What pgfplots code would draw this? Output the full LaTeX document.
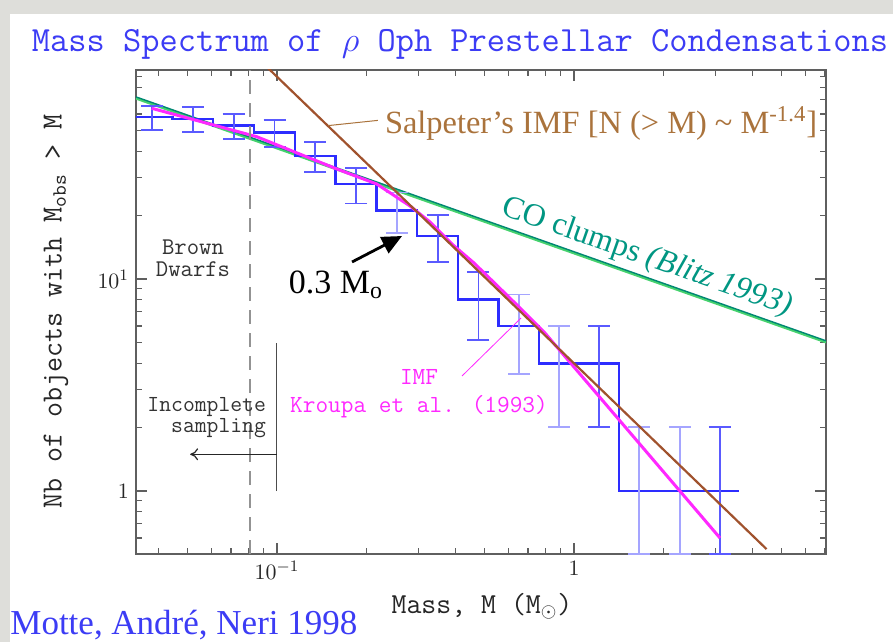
\documentclass[border=0pt]{standalone}
\usepackage{fontspec}
\setmainfont{Liberation Serif}
\usepackage{pgfplots}
\pgfplotsset{compat=1.18}
\usetikzlibrary{arrows.meta}
\definecolor{histblue}{RGB}{45,45,255}
\definecolor{errblue}{RGB}{90,90,255}
\definecolor{errlight}{RGB}{165,165,255}
\definecolor{salp}{RGB}{160,82,45}
\definecolor{salptext}{RGB}{170,115,60}
\definecolor{cogreen}{RGB}{70,210,110}
\definecolor{coteal}{RGB}{0,135,115}
\definecolor{cotext}{RGB}{0,150,130}
\definecolor{kroupa}{RGB}{255,40,255}
\definecolor{titleblue}{RGB}{60,60,245}
\definecolor{axgray}{RGB}{95,95,95}
\definecolor{bggray}{RGB}{222,222,218}
\begin{document}
\begin{tikzpicture}
\fill[bggray] (-68pt,-44pt) rectangle (378.5pt,277pt);
\fill[white] (-63pt,-44pt) rectangle (378.5pt,270pt);
\useasboundingbox (-68pt,-44pt) rectangle (378.5pt,277pt);
\begin{axis}[
  at={(0pt,0pt)}, anchor=south west,
  scale only axis, width=345pt, height=242pt,
  xmode=log, ymode=log,
  xmin=0.03352, xmax=7.056, ymin=0.5045, ymax=96.8,
  xtick={0.1,1}, xticklabels={$10^{-1}$,$1$},
  ytick={1,10}, yticklabels={$1$,$10^{1}$},
  minor xtick={0.04,0.05,0.06,0.07,0.08,0.09,0.2,0.3,0.4,0.5,0.6,0.7,0.8,0.9,2,3,4,5,6,7},
  minor ytick={0.6,0.7,0.8,0.9,2,3,4,5,6,7,8,9,20,30,40,50,60,70,80,90},
  axis line style={axgray, line width=1pt},
  major tick length=5.5pt, minor tick length=3pt,
  every tick/.style={axgray, line width=0.6pt},
  tick label style={font=\fontsize{11}{13}\selectfont, text=black!85},
  tick align=inside,
]
% CO clumps (Blitz 1993)
\addplot[cogreen, line width=1.2pt, mark=none] coordinates {(0.0335,71.1) (7.056,5.03)};
\addplot[coteal, line width=0.7pt, mark=none] coordinates {(0.0335,72.3) (7.056,5.11)};
% cumulative histogram
\addplot[histblue, line width=1.2pt, mark=none, const plot] coordinates {
 (0.03238,58) (0.04443,57) (0.06095,53) (0.08363,49) (0.11474,38) (0.15743,28)
 (0.2160,21) (0.2963,16) (0.4066,8) (0.5568,6) (0.7625,4) (1.039,4)
 (1.417,1) (1.941,1) (2.656,1) (3.60,1)};
% error bars (darker)
\addplot[draw=none, mark=none, forget plot,
  error bars/.cd, y dir=both, y explicit,
  error bar style={line width=0.9pt, draw=errblue},
  error mark options={rotate=90, line width=0.9pt, mark size=5.5pt, draw=errblue}]
 coordinates {
 (0.0380,58) +- (0,7.616)
 (0.0521,57) +- (0,7.550)
 (0.0715,53) +- (0,7.280)
 (0.0981,49) +- (0,7.0)
 (0.1346,38) +- (0,6.164)
 (0.1846,28) +- (0,5.292)
 (0.3475,16) +- (0,4.0)
 (0.4768,8) +- (0,2.828)
 (1.214,4) +- (0,2.0)
 (3.101,1) += (0,1) -= (0,0.4945)
 };
% error bars (lighter)
\addplot[draw=none, mark=none, forget plot,
  error bars/.cd, y dir=both, y explicit,
  error bar style={line width=0.9pt, draw=errlight},
  error mark options={rotate=90, line width=0.9pt, mark size=5.5pt, draw=errlight}]
 coordinates {
 (0.2533,21) +- (0,4.583)
 (0.653,6) +- (0,2.449)
 (0.890,4) +- (0,2.0)
 (1.655,1) += (0,1) -= (0,0.4945)
 (2.275,1) += (0,1) -= (0,0.4945)
 };
% Kroupa et al. (1993) IMF
\addplot[kroupa, line width=1.5pt, mark=none] coordinates {
 (0.03784,63.87) (0.08544,46.91) (0.1568,33.29) (0.2166,28.07) (0.2804,22.10)
 (0.3275,18.57) (0.3915,14.47) (0.4605,11.90) (0.6428,7.54) (0.7986,5.56) (3.101,0.6004)};
% Salpeter
\addplot[salp, line width=1.1pt, mark=none] coordinates {(0.09,103.7) (4.45,0.532)};
% annotations
\draw[gray!85, dash pattern=on 7pt off 4.5pt, line width=0.7pt] (axis cs:0.0811,0.5045) -- (axis cs:0.0811,96.8);
\draw[black!70, line width=0.5pt] (axis cs:0.1,1) -- (axis cs:0.1,5);
\draw[-{To[length=4pt,width=6pt]}, black!85, line width=0.6pt] (axis cs:0.1,1.49) -- (axis cs:0.051,1.49);
\draw[salptext, line width=0.5pt] (axis cs:0.1484,52.9) -- (axis cs:0.2186,56.0);
\draw[kroupa, line width=0.4pt] (axis cs:0.4197,3.487) -- (axis cs:0.6632,6.546);
\draw[-{Triangle[length=10pt,width=9pt]}, line width=1.4pt] (axis cs:0.1789,12.03) -- (axis cs:0.2636,15.95);
\end{axis}
% texts
\node[text=titleblue, font=\fontsize{17.7}{20}\ttfamily] at (162pt,255pt) {Mass Spectrum of $\rho$ Oph Prestellar Condensations};
\node[anchor=west, inner sep=0pt, text=titleblue, font=\fontsize{17.5}{20}\selectfont] at (-63pt,-35.5pt) {Motte, André, Neri 1998};
\node[font=\fontsize{14.5}{16}\ttfamily, text=black!85] at (173pt,-26pt) {Mass, M (M$_\odot$)};
\node[rotate=90, font=\fontsize{14.6}{16}\ttfamily, text=black!85] at (-40pt,121.5pt) {Nb of objects with M\textsubscript{obs} > M};
\node[align=center, font=\fontsize{12}{11}\ttfamily, text=black!80] at (28.5pt,147.7pt) {Brown\\Dwarfs};
\node[anchor=east, align=right, font=\fontsize{11.5}{10.5}\ttfamily, text=black!80] at (68.5pt,68pt) {Incomplete\\sampling};
\node[align=center, text=kroupa, font=\fontsize{12.3}{14}\ttfamily] at (141.5pt,80pt) {IMF\\Kroupa et al. (1993)};
\node[font=\fontsize{17}{19}\selectfont] at (100pt,134.5pt) {0.3 M\textsubscript{o}};
\node[anchor=base west, text=salptext, font=\fontsize{16.2}{18}\selectfont] at (121pt,210pt) {Salpeter’s IMF [N (> M) \textasciitilde{} M\textsuperscript{-1.4}]};
\node[rotate=-19.4, text=cotext, font=\fontsize{16}{18}\selectfont] at (255.5pt,148.3pt) {CO clumps \textit{(Blitz 1993)}};
\end{tikzpicture}
\end{document}
